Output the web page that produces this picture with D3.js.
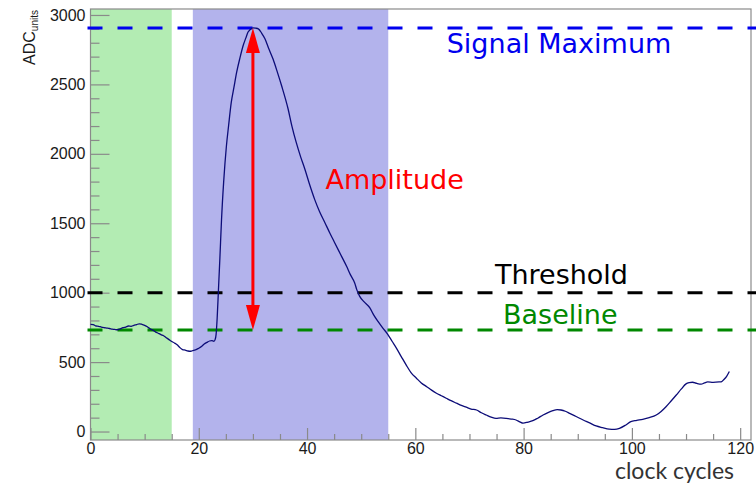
<!DOCTYPE html>
<html><head><meta charset="utf-8">
<script src="https://cdn.jsdelivr.net/npm/d3@7"></script>
<style>
html,body{margin:0;padding:0;background:#fff;}
svg{display:block;}
</style></head>
<body>
<svg id="chart" width="756" height="484"></svg>
<script>
// ---- data ----
const cycles = [0,0.5,1,1.5,2,2.5,3,3.5,4,4.5,5,5.5,6,6.5,7,7.5,8,8.5,9,9.5,10,10.5,11,11.5,12,12.5,13,13.5,14,14.5,15,15.5,16,16.5,17,17.5,18,18.5,19,19.5,20,20.5,21,21.5,22,22.4,22.8,23.0,23.2,23.4,23.6,23.9,24.2,24.6,25.1,25.5,26.0,26.5,27.0,27.6,28.2,28.7,29.1,29.5,30.0,30.5,31.0,31.6,32.2,32.9,33.7,34.5,35.3,36.5,37.2,38.0,38.8,39.6,40.5,41.4,42.3,43.3,44.2,45.1,46.2,47.3,48.0,48.8,49.2,49.7,50.5,51.6,52.3,53.1,54.0,54.9,55.7,56.5,57.4,58.3,59.2,60.2,61.1,62.1,63.0,63.9,64.8,65.7,66.6,67.6,68.5,69.4,70.3,71.3,72.2,73.1,74.0,74.9,75.8,76.8,77.7,78.6,79.3,79.9,80.8,81.7,82.6,83.6,84.5,85.4,86.2,86.9,87.7,88.5,89.7,91.0,92.2,93.4,94.6,95.8,96.8,97.7,98.8,99.8,100.9,102.0,103.2,104.5,105.4,106.3,107.2,108.2,109.1,110.0,110.6,111.2,112.0,112.8,113.4,114.0,115.0,116.1,116.6,117.0,117.5,118.0];
const adc =    [772,770,760,758,752,748,745,742,738,735,733,740,748,752,760,758,765,770,776,772,765,755,740,730,718,708,698,690,676,662,648,638,625,605,590,586,580,578,585,590,600,612,630,642,652,655,650,660,700,820,990,1250,1525,1800,2055,2200,2370,2480,2588,2690,2780,2835,2877,2895,2907,2905,2900,2870,2830,2760,2684,2590,2490,2323,2200,2082,1980,1889,1775,1672,1585,1504,1430,1360,1275,1190,1130,1070,1020,975,935,890,840,793,745,700,650,601,540,480,425,384,350,323,298,276,258,240,222,204,188,175,162,155,135,119,104,95,98,95,90,83,70,60,68,78,96,119,136,150,158,155,146,131,108,83,62,40,28,18,16,23,45,71,80,88,100,119,145,179,218,263,305,343,352,355,346,341,350,357,354,357,360,375,398,432];

const xDomain = [0, 122];
const yDomain = [-61, 3043];
const xMajorTicks = [0,20,40,60,80,100,120];
const yMajorTicks = [0,500,1000,1500,2000,2500,3000];

const bands = [
  {from: 0,  to: 15, color: "#b3ecb3"},
  {from: 18.9, to: 55, color: "#b3b3ec"}
];
const levels = [
  {name: "Signal Maximum", value: 2907, color: "#0000ee", labelX: 65.8, labelY: 2725},
  {name: "Threshold",      value: 1000, color: "#000000", labelX: 74.7, labelY: 1065},
  {name: "Baseline",       value: 731,  color: "#008800", labelX: 76.2, labelY: 776}
];
const amplitude = {x: 30, from: 731, to: 2907, label: "Amplitude", labelX: 43.4, labelY: 1750};

// ---- drawing ----
const svg = d3.select("#chart");
const W = 756, H = 484;
const x = d3.scaleLinear().domain(xDomain).range([90.5, 751]);
const y = d3.scaleLinear().domain(yDomain).range([440, 9]);
const axisColor = "#8a8a8a";

// bands
svg.append("g").selectAll("rect").data(bands).join("rect")
  .attr("x", d => x(d.from)).attr("width", d => x(d.to) - x(d.from))
  .attr("y", y.range()[1]).attr("height", y.range()[0] - y.range()[1])
  .attr("fill", d => d.color);

// frame
svg.append("rect")
  .attr("x", x.range()[0]).attr("y", y.range()[1])
  .attr("width", x.range()[1] - x.range()[0]).attr("height", y.range()[0] - y.range()[1])
  .attr("fill", "none").attr("stroke", axisColor).attr("stroke-width", 1.2);

// y minor ticks
const yMinor = d3.range(0, 3001, 100).filter(v => v % 500 !== 0);
const gyMinor = svg.append("g").attr("transform", `translate(${x.range()[0]},0)`)
  .call(d3.axisLeft(y).tickValues(yMinor).tickSize(-9).tickSizeOuter(0).tickFormat(""));
// y major
const gy = svg.append("g").attr("transform", `translate(${x.range()[0]},0)`)
  .call(d3.axisLeft(y).tickValues(yMajorTicks).tickSize(-19).tickSizeOuter(0).tickPadding(5).tickFormat(d3.format("d")));
// x minor
const xMinor = d3.range(0, 121, 5).filter(v => v % 20 !== 0);
const gxMinor = svg.append("g").attr("transform", `translate(0,${y.range()[0]})`)
  .call(d3.axisBottom(x).tickValues(xMinor).tickSize(-6).tickSizeOuter(0).tickFormat(""));
const gx = svg.append("g").attr("transform", `translate(0,${y.range()[0]})`)
  .call(d3.axisBottom(x).tickValues(xMajorTicks).tickSize(-12).tickSizeOuter(0).tickPadding(3).tickFormat(d3.format("d")));

[gyMinor, gy, gxMinor, gx].forEach(g => {
  g.select(".domain").remove();
  g.selectAll("line").attr("stroke", axisColor).attr("stroke-width", 1.2);
  g.selectAll("text").attr("fill", "#1a1a1a")
    .style("font-family", "'Liberation Sans', Arial, sans-serif").style("font-size", "16px");
});

// level lines
svg.append("g").selectAll("line").data(levels).join("line")
  .attr("x1", x.range()[0] - 3).attr("x2", W + 10)
  .attr("y1", d => y(d.value)).attr("y2", d => y(d.value))
  .attr("stroke", d => d.color).attr("stroke-width", 3)
  .attr("stroke-dasharray", "15,15");

// waveform
const line = d3.line().x((d, i) => x(cycles[i])).y(d => y(d)).curve(d3.curveMonotoneX);
svg.append("path").datum(adc).attr("d", line)
  .attr("fill", "none").attr("stroke", "#0c0c78").attr("stroke-width", 1.3)
  .attr("stroke-linejoin", "round");

// amplitude arrow
const ax = x(amplitude.x), yTop = y(amplitude.to), yBot = y(amplitude.from);
const headL = 25, headW = 7;
svg.append("line").attr("x1", ax).attr("x2", ax)
  .attr("y1", yTop + headL - 2).attr("y2", yBot - headL + 2)
  .attr("stroke", "#ff0000").attr("stroke-width", 3);
svg.append("path")
  .attr("d", `M${ax},${yTop} L${ax - headW},${yTop + headL} L${ax + headW},${yTop + headL} Z`)
  .attr("fill", "#ff0000");
svg.append("path")
  .attr("d", `M${ax},${yBot} L${ax - headW},${yBot - headL} L${ax + headW},${yBot - headL} Z`)
  .attr("fill", "#ff0000");

// labels
const labelFont = "'DejaVu Sans', sans-serif";
svg.append("g").selectAll("text").data(levels).join("text")
  .attr("x", d => x(d.labelX)).attr("y", d => y(d.labelY))
  .attr("fill", d => d.color)
  .style("font-family", labelFont).style("font-size", "27px")
  .text(d => d.name);
svg.append("text").attr("x", x(amplitude.labelX)).attr("y", y(amplitude.labelY))
  .attr("fill", "#ff0000").style("font-family", labelFont).style("font-size", "27px")
  .text(amplitude.label);

// axis titles
svg.append("text").attr("x", 734).attr("y", 479)
  .attr("text-anchor", "end").attr("fill", "#333")
  .style("font-family", "Lato, sans-serif").style("font-size", "23px")
  .text("clock cycles");

const yt = svg.append("text")
  .attr("transform", "translate(35,10) rotate(-90)")
  .attr("text-anchor", "end").attr("fill", "#1a1a1a")
  .style("font-family", "'Liberation Sans', Arial, sans-serif").style("font-size", "16px");
yt.append("tspan").text("ADC");
yt.append("tspan").attr("dy", 3).style("font-size", "10px").text("units");
</script>
</body></html>
